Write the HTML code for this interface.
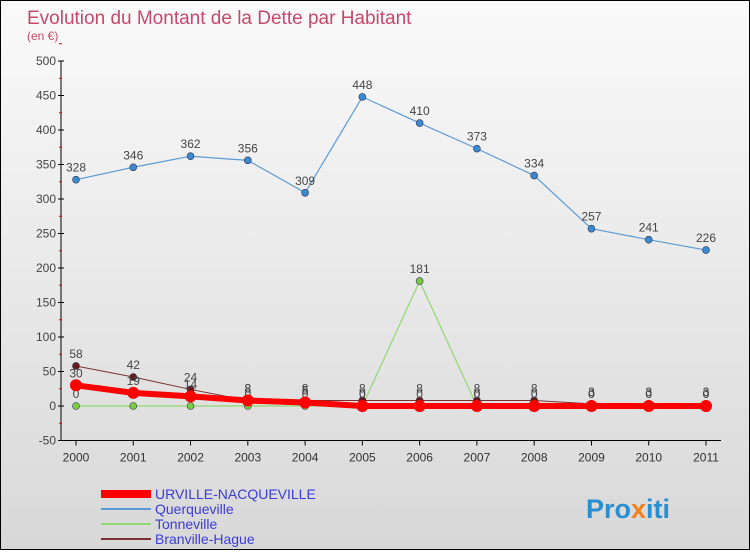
<!DOCTYPE html>
<html><head><meta charset="utf-8"><style>
html,body{margin:0;padding:0}
body{width:750px;height:550px;overflow:hidden;font-family:"Liberation Sans",sans-serif}
#wrap{position:relative;width:748px;height:548px;border:1px solid #000;background:linear-gradient(#fafafa,#d8d8d8)}
</style></head><body>
<div id="wrap">
<svg id="chart" width="748" height="548">
<text x="26" y="23" font-size="19" fill="#c8486a" font-weight="300">Evolution du Montant de la Dette par Habitant</text>
<text x="26" y="39" font-size="12" fill="#c8486a">(en €)</text>
<g id="axes"></g><g id="series"></g>
<g>
<line x1="100" y1="493" x2="150" y2="493" stroke="#f00" stroke-width="8"/>
<text x="154" y="498" font-size="14" fill="#3b3bdb">URVILLE-NACQUEVILLE</text>
<line x1="100" y1="508" x2="150" y2="508" stroke="#5b9bd5" stroke-width="2"/>
<text x="154" y="513" font-size="14" fill="#3b3bdb">Querqueville</text>
<line x1="100" y1="523" x2="150" y2="523" stroke="#90d870" stroke-width="2"/>
<text x="154" y="528" font-size="14" fill="#3b3bdb">Tonneville</text>
<line x1="100" y1="538" x2="150" y2="538" stroke="#7a3030" stroke-width="2"/>
<text x="154" y="543" font-size="14" fill="#3b3bdb">Branville-Hague</text>
</g>
<text x="585" y="517" font-size="27" font-weight="bold" fill="#2a8fd0">Pro<tspan fill="#f08020">x</tspan>iti</text>
</svg></div>
<script>
const years=[2000,2001,2002,2003,2004,2005,2006,2007,2008,2009,2010,2011];
const yTicks=[-50,0,50,100,150,200,250,300,350,400,450,500];
const urville=[30,19,14,8,5,0,0,0,0,0,0,0];
const querqueville=[328,346,362,356,309,448,410,373,334,257,241,226];
const tonneville=[0,0,0,0,0,0,181,0,0,0,0,0];
const branville=[58,42,24,8,8,8,8,8,8,3,3,3];
const NS="http://www.w3.org/2000/svg";
const xS=i=>75+i*(630/11);
const yS=v=>405-v*0.69;
function mk(tag,attrs,parent){const e=document.createElementNS(NS,tag);for(const k in attrs)e.setAttribute(k,attrs[k]);parent.appendChild(e);return e;}
const axes=document.getElementById('axes'),ser=document.getElementById('series');
let a=mk('line',{x1:60,y1:yS(500),x2:60,y2:yS(-50),stroke:'#000'},axes);


let b=mk('line',{x1:60,y1:yS(-50),x2:720,y2:yS(-50),stroke:'#000'},axes);


yTicks.forEach(t=>{
 mk('line',{x1:57,y1:yS(t),x2:63,y2:yS(t),stroke:'#000'},axes);
 mk('line',{x1:58,y1:yS(t+25),x2:61,y2:yS(t+25),stroke:'#e00'},axes);
 const tx=mk('text',{x:55,y:yS(t)+4,'font-size':12,fill:'#444','text-anchor':'end'},axes);
 tx.textContent=t;
 
 
});
years.forEach((y,i)=>{
 mk('line',{x1:xS(i),y1:yS(-50),x2:xS(i),y2:yS(-50)+5,stroke:'#000'},axes);
 const tx=mk('text',{x:xS(i),y:yS(-50)+21,'font-size':12,fill:'#333','text-anchor':'middle'},axes);
 tx.textContent=y;
 
 
});
function draw(data,name,color,w,r,fill,labels){
 const g=mk('g',{},ser);
 
 
 const p=mk('polyline',{points:data.map((v,i)=>xS(i)+','+yS(v)).join(' '),fill:'none',stroke:color,'stroke-width':w,'stroke-linejoin':'round'},g);
 
 
 data.forEach((v,i)=>{
  const c=mk('circle',{cx:xS(i),cy:yS(v),r:r,fill:fill,stroke:color==='#f00'?'#f00':'#335','stroke-width':color==='#f00'?2:0.6},g);
  
  
  if(labels){const t=mk('text',{x:xS(i),y:yS(v)-8,'font-size':12,fill:'#444','text-anchor':'middle'},g);
   t.textContent=v;
   
   }
 });
}
draw(tonneville,'tonneville','#90d870',1.2,3.5,'#7ccc40',true);
draw(branville,'branville','#7a3030',1,3.5,'#6a1a1a',true);
draw(urville,'urville','#f00',6,5,'#f00',true);
draw(querqueville,'querqueville','#5b9bd5',1.2,3.5,'#3a8ad0',true);
</script>
</body></html>
